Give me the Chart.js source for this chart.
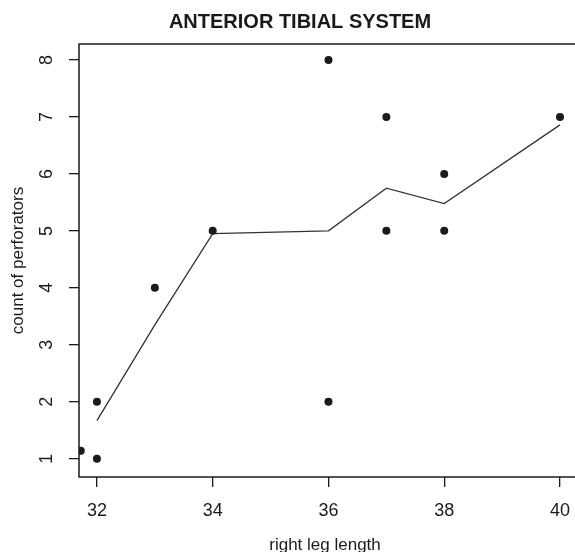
<!DOCTYPE html>
<html>
<head>
<meta charset="utf-8">
<script src="https://cdn.jsdelivr.net/npm/chart.js@4"></script>
<style>
  body { margin: 0; background: #fff; }
</style>
</head>
<body>
<canvas id="myChart" width="575" height="552"></canvas>
<script>
// observed points
let legLength = [31.72, 32, 32, 33, 34, 36, 36, 37, 37, 38, 38, 40];
let perforators = [1.14, 1, 2, 4, 5, 8, 2, 7, 5, 6, 5, 7];

// smoothed (lowess) line
let smoothX = [32, 33, 34, 36, 37, 38, 40];
let smoothY = [1.67, 3.35, 4.95, 5.0, 5.75, 5.48, 6.86];

let xTicks = [32, 34, 36, 38, 40];
let yTicks = [1, 2, 3, 4, 5, 6, 7, 8];

let ink = '#1a1a1a';

// R-style box around the plot (right side runs off the canvas) + centred title
let boxPlugin = {
    id: 'boxPlugin',
    afterDraw(chart) {
        let ctx = chart.ctx;
        let a = chart.chartArea;
        ctx.save();
        ctx.strokeStyle = ink;
        ctx.lineWidth = 1.5;
        ctx.strokeRect(a.left, a.top, chart.width + 10 - a.left, a.bottom - a.top);
        ctx.fillStyle = ink;
        ctx.font = 'bold 20px Arial, "Liberation Sans", sans-serif';
        ctx.textAlign = 'center';
        ctx.textBaseline = 'middle';
        ctx.fillText('ANTERIOR TIBIAL SYSTEM', 300, 22);
        ctx.restore();
    }
};

let myChart = document.getElementById("myChart").getContext('2d');

let chart = new Chart(myChart, {
    type: 'scatter',
    data: {
        datasets: [
            {
                data: legLength.map((x, i) => ({ x: x, y: perforators[i] })),
                backgroundColor: ink,
                borderColor: ink,
                pointRadius: 4,
                pointBorderWidth: 0,
                showLine: false,
                clip: 0
            },
            {
                data: smoothX.map((x, i) => ({ x: x, y: smoothY[i] })),
                borderColor: '#333',
                borderWidth: 1.3,
                pointRadius: 0,
                showLine: true,
                fill: false
            }
        ]
    },
    options: {
        responsive: false,
        animation: false,
        layout: { padding: { top: 44, right: 0, left: 0, bottom: 0 } },
        plugins: {
            legend: { display: false },
            tooltip: { enabled: false }
        },
        scales: {
            x: {
                type: 'linear',
                min: 31.69,
                max: 40.19,
                afterBuildTicks: axis => { axis.ticks = xTicks.map(v => ({ value: v })); },
                afterFit: axis => {
                    axis.height = 75;
                    axis.paddingLeft = 0;
                    axis.paddingRight = 0;
                },
                grid: { drawOnChartArea: false, tickLength: 10, color: ink, lineWidth: 1.3 },
                border: { display: false },
                ticks: {
                    color: ink,
                    padding: 13,
                    maxRotation: 0,
                    font: { family: 'Arial, "Liberation Sans", sans-serif', size: 18 }
                },
                title: {
                    display: true,
                    text: 'right leg length',
                    color: ink,
                    padding: { top: 0, bottom: -2 },
                    font: { family: 'Arial, "Liberation Sans", sans-serif', size: 17, lineHeight: 1 }
                }
            },
            y: {
                type: 'linear',
                min: 0.68,
                max: 8.28,
                afterBuildTicks: axis => { axis.ticks = yTicks.map(v => ({ value: v })); },
                afterFit: axis => {
                    axis.width = 79;
                    axis.paddingTop = 0;
                    axis.paddingBottom = 0;
                },
                grid: { drawOnChartArea: false, tickLength: 10, color: ink, lineWidth: 1.3 },
                border: { display: false },
                ticks: {
                    color: ink,
                    padding: 17,
                    minRotation: 90,
                    maxRotation: 90,
                    crossAlign: 'center',
                    font: { family: 'Arial, "Liberation Sans", sans-serif', size: 18 }
                },
                title: {
                    display: true,
                    text: 'count of perforators',
                    color: ink,
                    padding: { top: 8, bottom: 0 },
                    font: { family: 'Arial, "Liberation Sans", sans-serif', size: 17, lineHeight: 1.2 }
                }
            }
        }
    },
    plugins: [boxPlugin]
});
</script>
</body>
</html>
